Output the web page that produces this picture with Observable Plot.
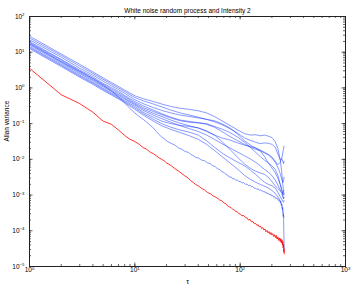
<!DOCTYPE html>
<html><head><meta charset="utf-8">
<script src="https://cdn.jsdelivr.net/npm/d3@7"></script>
<script src="https://cdn.jsdelivr.net/npm/@observablehq/plot@0.6"></script>
<style>body{margin:0;background:#fff;}</style>
</head><body><div id="chart"></div>
<script>
const titleText = "White noise random process and Intensity 2";
const xLabel = "τ";
const yLabel = "Allan variance";
const xTicks = [1, 10, 100, 1000];
const yTicks = [1e-5, 1e-4, 1e-3, 1e-2, 1e-1, 1, 10, 100];

// tau values for the blue realisations
const tauGrid = [1,2,3,4,5,6,7,8,10,12,15,18,22,27,33,40,48,57,67,80,95,110,125,140,155,170,185,200,215,228,240,248,254,258,261];
// log10 of Allan variance, blue realisations
const blue1Log = [1.45,0.95,0.66,0.45,0.28,0.15,0.04,-0.06,-0.22,-0.30,-0.38,-0.45,-0.52,-0.57,-0.60,-0.64,-0.70,-0.80,-0.92,-1.05,-1.18,-1.28,-1.32,-1.31,-1.34,-1.32,-1.35,-1.39,-1.50,-1.70,-2.00,-2.35,-2.70,-2.90,-2.97];
const blue2Log = [1.40,0.91,0.61,0.41,0.24,0.11,0.00,-0.10,-0.27,-0.36,-0.45,-0.53,-0.62,-0.70,-0.76,-0.82,-0.88,-0.95,-1.03,-1.14,-1.27,-1.40,-1.47,-1.52,-1.56,-1.54,-1.55,-1.58,-1.66,-1.85,-2.02,-1.98,-1.82,-1.70,-1.63];
const blue3Log = [1.35,0.86,0.55,0.36,0.19,0.06,-0.05,-0.15,-0.33,-0.44,-0.55,-0.63,-0.70,-0.76,-0.80,-0.84,-0.88,-0.92,-1.00,-1.12,-1.30,-1.48,-1.60,-1.68,-1.74,-1.80,-1.86,-1.93,-2.05,-2.15,-2.08,-1.98,-2.05,-2.12,-2.05];
const blue4Log = [1.30,0.80,0.50,0.31,0.13,0.01,-0.10,-0.21,-0.38,-0.50,-0.62,-0.72,-0.82,-0.90,-0.94,-0.97,-1.02,-1.10,-1.22,-1.36,-1.48,-1.58,-1.66,-1.72,-1.76,-1.82,-1.88,-1.96,-2.08,-2.22,-2.40,-2.55,-2.65,-2.60,-2.50];
const blue5Log = [1.27,0.78,0.47,0.27,0.10,-0.03,-0.14,-0.24,-0.42,-0.55,-0.66,-0.75,-0.84,-0.92,-0.96,-0.98,-1.00,-1.08,-1.15,-1.25,-1.38,-1.52,-1.66,-1.80,-1.92,-2.02,-2.10,-2.18,-2.28,-2.45,-2.70,-2.85,-2.95,-3.00,-2.97];
const blue6Log = [1.23,0.73,0.43,0.23,0.06,-0.07,-0.18,-0.28,-0.45,-0.59,-0.71,-0.80,-0.90,-0.99,-1.06,-1.12,-1.22,-1.32,-1.40,-1.46,-1.54,-1.60,-1.64,-1.68,-1.76,-1.92,-2.10,-2.24,-2.38,-2.52,-2.70,-2.85,-3.00,-3.10,-3.08];
const blue7Log = [1.20,0.70,0.40,0.20,0.03,-0.10,-0.21,-0.31,-0.48,-0.63,-0.76,-0.86,-0.96,-1.06,-1.14,-1.22,-1.32,-1.44,-1.56,-1.68,-1.80,-1.90,-1.99,-2.08,-2.18,-2.28,-2.36,-2.45,-2.58,-2.72,-2.85,-2.95,-3.05,-3.10,-3.08];
const blue8Log = [1.16,0.66,0.36,0.16,-0.01,-0.14,-0.25,-0.35,-0.52,-0.68,-0.82,-0.93,-1.00,-1.05,-1.08,-1.12,-1.20,-1.32,-1.50,-1.72,-1.95,-2.13,-2.25,-2.33,-2.38,-2.42,-2.50,-2.62,-2.74,-2.82,-2.88,-2.92,-2.95,-2.90,-2.87];
const blue9Log = [1.13,0.63,0.33,0.13,-0.04,-0.17,-0.28,-0.38,-0.56,-0.72,-0.88,-1.00,-1.10,-1.18,-1.24,-1.32,-1.48,-1.66,-1.82,-1.96,-2.08,-2.18,-2.30,-2.42,-2.54,-2.64,-2.70,-2.74,-2.80,-2.92,-3.05,-3.12,-3.18,-3.20,-3.15];
const blue10Log = [1.10,0.60,0.30,0.10,-0.07,-0.20,-0.31,-0.41,-0.60,-0.76,-0.93,-1.06,-1.16,-1.25,-1.34,-1.44,-1.58,-1.75,-1.92,-2.10,-2.28,-2.45,-2.56,-2.64,-2.70,-2.75,-2.80,-2.87,-2.95,-3.05,-3.15,-3.30,-3.45,-3.58,-3.62];

// tau values for the red curve and the lowest blue curve
const tauDense = [1,2,3,4,5,6,7,8,9,10,11,12,13,14,15,16,17,18,19,20,22,24,26,28,30,32,34,36,38,40,43,46,49,52,55,58,61,64,67,70,73,76,79,82,85,88,91,94,97,100,104,108,112,116,120,124,128,132,136,140,144,148,152,156,160,164,168,172,176,180,184,188,192,196,200,204,208,212,216,220,224,228,232,236,240,243,246,249,252,254,256,258,260,261,262];
const redLog = [0.55,-0.19,-0.44,-0.68,-0.93,-1.02,-1.18,-1.33,-1.44,-1.50,-1.58,-1.67,-1.72,-1.80,-1.84,-1.90,-1.96,-2.00,-2.04,-2.10,
 -2.17,-2.26,-2.33,-2.40,-2.47,-2.52,-2.60,-2.65,-2.71,-2.74,
 -2.81,-2.86,-2.93,-2.96,-3.02,-3.05,-3.09,-3.14,-3.16,-3.22,-3.24,-3.30,-3.33,-3.35,-3.40,-3.42,-3.46,-3.47,-3.52,-3.53,
 -3.58,-3.57,-3.63,-3.64,-3.70,-3.68,-3.75,-3.74,-3.80,-3.79,-3.85,-3.83,-3.89,-3.87,-3.94,-3.91,-3.98,-3.95,-4.03,-3.99,-4.06,-4.02,-4.10,-4.05,-4.12,-4.08,-4.16,-4.11,-4.19,-4.13,-4.23,-4.17,-4.27,-4.20,-4.30,
 -4.22,-4.34,-4.25,-4.40,-4.30,-4.48,-4.38,-4.60,-4.50,-4.65];
const lowBlueLog = [1.25,0.74,0.46,0.26,0.08,-0.08,-0.25,-0.42,-0.58,-0.70,-0.80,-0.88,-0.96,-1.05,-1.12,-1.22,-1.30,-1.38,-1.42,-1.48,
 -1.55,-1.60,-1.68,-1.72,-1.78,-1.80,-1.86,-1.90,-1.95,-1.96,
 -2.02,-2.04,-2.10,-2.12,-2.18,-2.20,-2.27,-2.28,-2.35,-2.36,-2.42,-2.44,-2.50,-2.49,-2.55,-2.54,-2.59,-2.58,-2.62,-2.62,
 -2.66,-2.65,-2.70,-2.69,-2.74,-2.72,-2.77,-2.76,-2.81,-2.80,-2.84,-2.82,-2.87,-2.85,-2.89,-2.88,-2.92,-2.90,-2.95,-2.93,-2.97,-2.96,-3.00,-2.98,-3.03,-3.01,-3.06,-3.04,-3.09,-3.07,-3.12,-3.10,-3.16,-3.14,-3.21,
 -3.18,-3.28,-3.25,-3.40,-3.35,-3.60,-3.55,-4.10,-4.30,-4.50];

const toRows = (taus, logs, name) => logs.map((l, i) => ({tau: taus[i], v: Math.pow(10, l), series: name}));
const blueRows = [
  ...toRows(tauGrid, blue1Log, "b1"), ...toRows(tauGrid, blue2Log, "b2"), ...toRows(tauGrid, blue3Log, "b3"),
  ...toRows(tauGrid, blue4Log, "b4"), ...toRows(tauGrid, blue5Log, "b5"), ...toRows(tauGrid, blue6Log, "b6"),
  ...toRows(tauGrid, blue7Log, "b7"), ...toRows(tauGrid, blue8Log, "b8"), ...toRows(tauGrid, blue9Log, "b9"),
  ...toRows(tauGrid, blue10Log, "b10"), ...toRows(tauDense, lowBlueLog, "b11")
];
const redRows = toRows(tauDense, redLog, "red");

const fmt = d => "10^" + Math.round(Math.log10(d));

const W = 354, H = 290, mt = 16, mb = 24, ml = 29, mr = 9;
const ph = H - mt - mb, pw = W - ml - mr;
const xMinor = d3.scaleLog().domain([1, 1000]).ticks();
const yMinor = d3.scaleLog().domain([1e-5, 100]).ticks();
const axisCol = "#222";

const chart = Plot.plot({
  width: W, height: H, marginTop: mt, marginBottom: mb, marginLeft: ml, marginRight: mr,
  style: {fontFamily: "'Liberation Sans', Arial, sans-serif", fontSize: "6.5px", background: "white", color: "#000"},
  x: {type: "log", domain: [1, 1000], ticks: xTicks, tickFormat: fmt, tickSize: 0, tickPadding: 1, label: null},
  y: {type: "log", domain: [1e-5, 100], ticks: yTicks, tickFormat: fmt, tickSize: 0, tickPadding: 5, label: null},
  marks: [
    Plot.line(blueRows, {x: "tau", y: "v", z: "series", stroke: "#1a3cff", strokeWidth: 0.65, strokeOpacity: 0.8}),
    Plot.line(redRows, {x: "tau", y: "v", stroke: "#ff0000", strokeWidth: 0.8}),
    Plot.tickX(xMinor, {x: d => d, insetTop: ph - 2, stroke: axisCol, strokeWidth: 0.7}),
    Plot.tickX(xMinor, {x: d => d, insetBottom: ph - 2, stroke: axisCol, strokeWidth: 0.7}),
    Plot.tickX(xTicks, {x: d => d, insetTop: ph - 3.5, stroke: axisCol, strokeWidth: 0.7}),
    Plot.tickX(xTicks, {x: d => d, insetBottom: ph - 3.5, stroke: axisCol, strokeWidth: 0.7}),
    Plot.tickY(yMinor, {y: d => d, insetRight: pw - 2, stroke: axisCol, strokeWidth: 0.7}),
    Plot.tickY(yMinor, {y: d => d, insetLeft: pw - 2, stroke: axisCol, strokeWidth: 0.7}),
    Plot.tickY(yTicks, {y: d => d, insetRight: pw - 3.5, stroke: axisCol, strokeWidth: 0.7}),
    Plot.tickY(yTicks, {y: d => d, insetLeft: pw - 3.5, stroke: axisCol, strokeWidth: 0.7}),
    Plot.frame({stroke: axisCol, strokeWidth: 1}),
    Plot.text([titleText], {text: d => d, frameAnchor: "top", dy: -8, fontSize: 6.5}),
    Plot.text([xLabel], {text: d => d, frameAnchor: "bottom", dy: 17, fontSize: 7}),
    Plot.text([yLabel], {text: d => d, frameAnchor: "left", dx: -23, rotate: -90, fontSize: 6.5})
  ]
});
// render "10^e" tick labels as base + raised exponent (real text)
chart.querySelectorAll('g[aria-label$="tick label"] text').forEach(t => {
  const m = t.textContent.match(/^10\^(.+)$/);
  if (!m) return;
  t.textContent = "";
  const NS = "http://www.w3.org/2000/svg";
  const base = document.createElementNS(NS, "tspan");
  base.textContent = "10";
  const ex = document.createElementNS(NS, "tspan");
  ex.textContent = m[1].replace("-", "\u2212");
  ex.setAttribute("font-size", "4.3px");
  ex.setAttribute("dy", "-2.6");
  t.appendChild(base); t.appendChild(ex);
});
document.getElementById("chart").appendChild(chart);
</script>
</body></html>
